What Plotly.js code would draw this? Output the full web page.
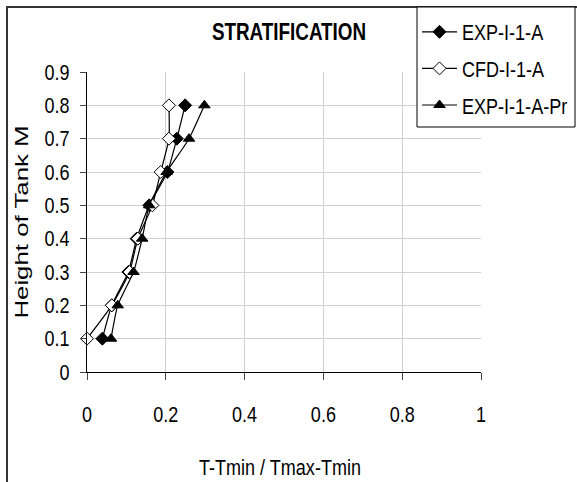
<!DOCTYPE html>
<html>
<head>
<meta charset="utf-8">
<script src="https://cdn.plot.ly/plotly-3.0.1.min.js"></script>
<style>
html,body{margin:0;padding:0;background:#fff;}
#chart{width:577px;height:482px;}
</style>
</head>
<body>
<div id="chart"></div>
<script>
// Height of tank (m)
const heights = [0.1, 0.2, 0.3, 0.4, 0.5, 0.6, 0.7, 0.8];
// T-Tmin / Tmax-Tmin for each series
const expA   = [0.039, 0.063, 0.105, 0.126, 0.158, 0.204, 0.228, 0.249];
const cfdA   = [0.000, 0.063, 0.108, 0.129, 0.166, 0.187, 0.208, 0.208];
const expAPr = [0.061, 0.078, 0.118, 0.140, 0.158, 0.202, 0.259, 0.298];
const seriesNames = ['EXP-I-1-A', 'CFD-I-1-A', 'EXP-I-1-A-Pr'];
const xTicks = [0, 0.2, 0.4, 0.6, 0.8, 1];
const yTicks = [0, 0.1, 0.2, 0.3, 0.4, 0.5, 0.6, 0.7, 0.8, 0.9];

const font = '"Liberation Sans", Arial, sans-serif';

function trace(xs, name, symbol, fill, size, group) {
  return {
    x: xs, y: heights, name: name, type: 'scatter', mode: 'lines+markers',
    legendgroup: group,
    line: {color: '#000', width: 1.2, shape: 'spline', smoothing: 0.5},
    marker: {symbol: symbol, size: size, color: fill, line: {color: '#000', width: 1}},
    cliponaxis: false
  };
}

const data = [
  trace(expA, seriesNames[0], 'diamond', '#000', 10, 'g1'),
  trace(cfdA, seriesNames[1], 'diamond', '#fff', 10, 'g2'),
  trace(expAPr, seriesNames[2], 'triangle-up', '#000', 10, 'g3')
];

// pixel helpers for paper coords (plot area x:87..481, y:72..372)
const px = v => (v - 87) / 394;
const py = v => (372 - v) / 300;

const layout = {
  width: 577, height: 482,
  margin: {l: 87, r: 96, t: 72, b: 110, pad: 0, autoexpand: false},
  paper_bgcolor: '#fff', plot_bgcolor: '#fff',
  showlegend: true,
  title: {
    text: '<b>STRATIFICATION</b>',
    font: {family: font, size: 23, color: '#000'},
    x: 289 / 577, xref: 'container', xanchor: 'center',
    y: 1 - 32 / 482, yref: 'container', yanchor: 'middle',
    automargin: false
  },
  xaxis: {
    range: [0, 1], tickvals: xTicks, ticktext: xTicks.map(String),
    showgrid: true, gridcolor: '#d0d0d0', gridwidth: 1,
    zeroline: false, showline: true, linecolor: '#000', linewidth: 1,
    ticks: 'outside', ticklen: 7, tickcolor: '#444', tickwidth: 1,
    ticklabelstandoff: 16,
    tickfont: {family: font, size: 22, color: '#000'},
    title: {text: 'T-Tmin / Tmax-Tmin', font: {family: font, size: 22, color: '#000'}, standoff: 31},
    automargin: false, fixedrange: true
  },
  yaxis: {
    range: [0, 0.9], tickvals: yTicks, ticktext: yTicks.map(String),
    showgrid: true, gridcolor: '#d0d0d0', gridwidth: 1,
    zeroline: false, showline: true, linecolor: '#000', linewidth: 1,
    ticks: 'outside', ticklen: 6, tickcolor: '#444', tickwidth: 1,
    ticklabelstandoff: 6,
    tickfont: {family: font, size: 22, color: '#000'},
    title: {text: 'Height of Tank M', font: {family: font, size: 19, color: '#000'}, standoff: 8},
    automargin: false, fixedrange: true
  },
  legend: {
    x: px(417), y: py(11),
    xanchor: 'left', yanchor: 'top',
    bgcolor: 'rgba(0,0,0,0)', borderwidth: 0,
    font: {family: font, size: 22, color: '#000'},
    traceorder: 'grouped', tracegroupgap: 5,
    itemwidth: 35
  },
  shapes: [
    // outer chart frame
    {type: 'rect', xref: 'paper', yref: 'paper', x0: px(7), x1: px(640), y0: py(540), y1: py(7),
     line: {color: '#333', width: 2}, fillcolor: 'rgba(0,0,0,0)', layer: 'below'},
    // legend box
    {type: 'rect', xref: 'paper', yref: 'paper', x0: px(417), x1: px(575), y0: py(127), y1: py(7),
     line: {color: '#000', width: 1}, fillcolor: '#fff', layer: 'above'}
  ]
};

// reshape text about its anchor (the reference uses a tall, narrow face)
function reshape(selector, sx, sy) {
  document.querySelectorAll(selector).forEach(t => {
    const x = parseFloat(t.getAttribute('x') || 0);
    const y = parseFloat(t.getAttribute('y') || 0);
    const tr = t.getAttribute('transform') || '';
    t.setAttribute('transform', tr + ' translate(' + x + ',' + y + ') scale(' + sx + ',' + sy + ') translate(' + (-x) + ',' + (-y) + ')');
  });
}

function recentre(selector, tx, ty) {
  const el = document.querySelector(selector);
  if (!el) return;
  const host = document.getElementById('chart').getBoundingClientRect();
  const r = el.getBoundingClientRect();
  const cx = r.left - host.left + r.width / 2;
  const cy = r.top - host.top + r.height / 2;
  el.parentNode.setAttribute('transform', 'translate(' + (tx - cx) + ',' + (ty - cy) + ')');
}

Plotly.newPlot('chart', data, layout, {displayModeBar: false, staticPlot: true}).then(() => {
  reshape('#chart .xtick text', 0.82, 1);
  reshape('#chart .ytick text', 0.82, 1);
  reshape('#chart .legendtext', 0.82, 1);
  reshape('#chart .g-xtitle text', 0.82, 1);
  reshape('#chart .g-gtitle text', 0.82, 1);
  reshape('#chart .g-ytitle text', 1.36, 1);
  recentre('#chart .g-ytitle text', 21.5, 222);
  recentre('#chart .g-xtitle text', 280, 467);
});
</script>
</body>
</html>
